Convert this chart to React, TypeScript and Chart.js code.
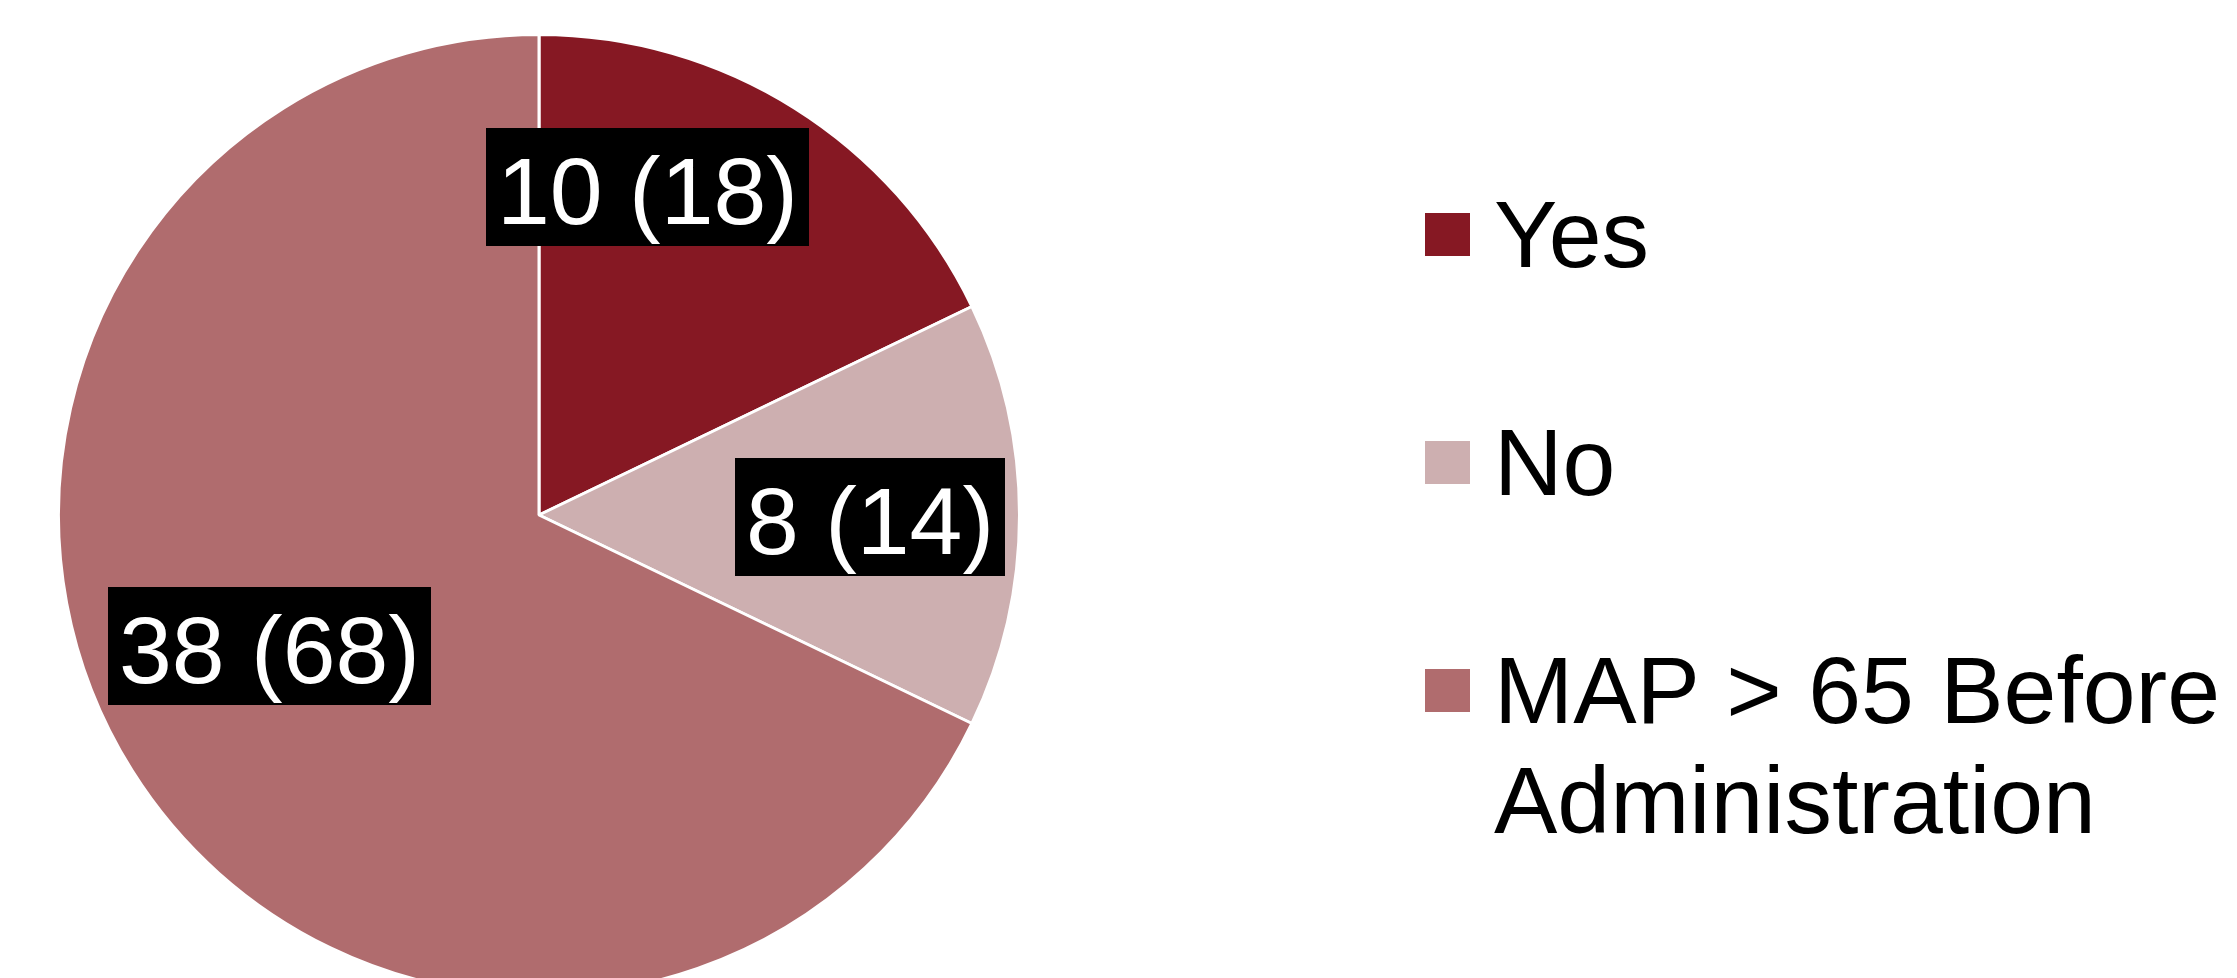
import React, { useEffect, useRef } from "react";
import { Chart, registerables } from "chart.js";

Chart.register(...registerables);

// ---- data ----
const categories = ["Yes", "No", "MAP > 65 Before Administration"];
const counts = [10, 8, 38];
const sliceColors = ["#861823", "#CDAFB0", "#B06C6E"];

// ---- label placement (relative to each slice: angle shift in degrees, radius fraction) ----
const labelAngleShift = [-13.8, 0.3, 6.2];
const labelRadiusFrac = [0.719, 0.688, 0.624];

const FONT = '"Liberation Sans", Arial, Helvetica, sans-serif';
const LABEL_FONT_PX = 95;
const LEGEND_FONT_PX = 95;

const W = 2237;
const H = 1000;

const boxLabelPlugin = {
  id: "boxLabels",
  afterDatasetsDraw(chart: any) {
    const ctx = chart.ctx as CanvasRenderingContext2D;
    const meta = chart.getDatasetMeta(0);
    const data = chart.data.datasets[0].data as number[];
    const total = data.reduce((a, b) => a + b, 0);
    ctx.save();
    ctx.font = `${LABEL_FONT_PX}px ${FONT}`;
    meta.data.forEach((arc: any, i: number) => {
      const { x, y, startAngle, endAngle, outerRadius } = arc.getProps(
        ["x", "y", "startAngle", "endAngle", "outerRadius"],
        true
      );
      const a = (startAngle + endAngle) / 2 + (labelAngleShift[i] * Math.PI) / 180;
      const cx = x + Math.cos(a) * outerRadius * labelRadiusFrac[i];
      const cy = y + Math.sin(a) * outerRadius * labelRadiusFrac[i];
      const text = `${data[i]} (${Math.round((data[i] / total) * 100)})`;
      const tw = ctx.measureText(text).width;
      const w = Math.round(tw + 22);
      const h = 118;
      const left = Math.round(cx - w / 2);
      const top = Math.round(cy - h / 2);
      ctx.fillStyle = "#000000";
      ctx.fillRect(left, top, w, h);
      ctx.fillStyle = "#ffffff";
      ctx.textAlign = "center";
      ctx.textBaseline = "alphabetic";
      ctx.fillText(text, left + w / 2, top + 96);
    });
    ctx.restore();
  },
};

const sideLegendPlugin = {
  id: "sideLegend",
  afterDraw(chart: any) {
    const ctx = chart.ctx as CanvasRenderingContext2D;
    const labels = chart.data.labels as string[];
    const colors = chart.data.datasets[0].backgroundColor as string[];
    const boxX = 1425;
    const boxW = 45;
    const boxH = 43;
    const textX = 1494;
    const maxTextW = W - textX - 4;
    const lineH = 110;
    const itemGap = 118;
    let baseline = 267;
    ctx.save();
    ctx.font = `${LEGEND_FONT_PX}px ${FONT}`;
    ctx.textAlign = "left";
    ctx.textBaseline = "alphabetic";
    labels.forEach((label, i) => {
      // word wrap
      const words = label.split(" ");
      const lines: string[] = [];
      let cur = "";
      words.forEach((wd) => {
        const test = cur ? cur + " " + wd : wd;
        if (cur && ctx.measureText(test).width > maxTextW) {
          lines.push(cur);
          cur = wd;
        } else {
          cur = test;
        }
      });
      if (cur) lines.push(cur);
      ctx.fillStyle = colors[i];
      ctx.fillRect(boxX, baseline - 54, boxW, boxH);
      ctx.fillStyle = "#000000";
      lines.forEach((ln, j) => {
        ctx.fillText(ln, textX, baseline + j * lineH);
      });
      baseline += (lines.length - 1) * lineH + lineH + itemGap;
    });
    ctx.restore();
  },
};

export default function App() {
  const canvasRef = useRef<HTMLCanvasElement | null>(null);

  useEffect(() => {
    const canvas = canvasRef.current;
    if (!canvas) return;
    const chart = new Chart(canvas, {
      type: "pie",
      data: {
        labels: categories,
        datasets: [
          {
            data: counts,
            backgroundColor: sliceColors,
            borderColor: "#ffffff",
            borderWidth: 3,
          },
        ],
      },
      options: {
        responsive: false,
        animation: false,
        devicePixelRatio: 1,
        layout: {
          padding: { left: 57, top: 33, right: W - 57 - 964, bottom: H - 33 - 964 },
        },
        plugins: {
          legend: { display: false },
          tooltip: { enabled: false },
          title: { display: false },
        },
      },
      plugins: [boxLabelPlugin, sideLegendPlugin],
    } as any);
    return () => chart.destroy();
  }, []);

  return (
    <div
      style={{
        position: "fixed",
        left: 0,
        top: 0,
        width: W,
        height: 978,
        overflow: "hidden",
        background: "#ffffff",
      }}
    >
      <canvas ref={canvasRef} width={W} height={H} style={{ width: W, height: H, display: "block" }} />
    </div>
  );
}
